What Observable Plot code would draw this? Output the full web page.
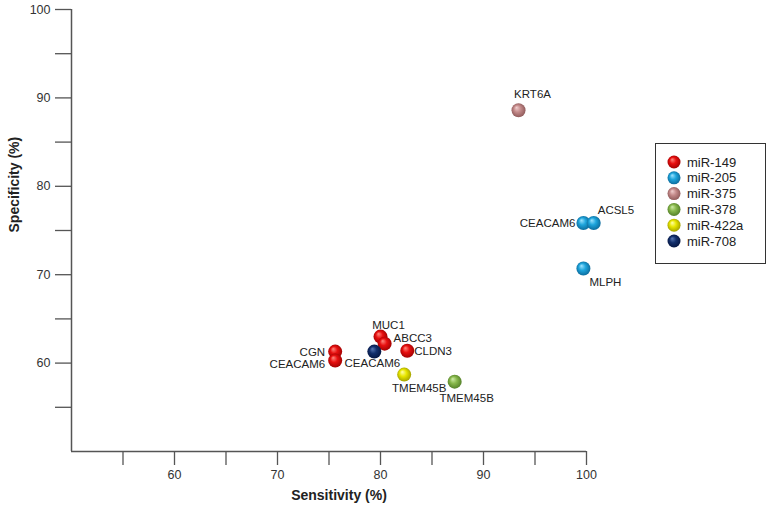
<!DOCTYPE html>
<html>
<head>
<meta charset="utf-8">
<script src="https://cdn.jsdelivr.net/npm/d3@7"></script>
<script src="https://cdn.jsdelivr.net/npm/@observablehq/plot@0.6"></script>
<style>
  html, body { margin: 0; padding: 0; background: #fff; }
  #chart { width: 771px; height: 512px; }
</style>
</head>
<body>
<div id="chart"></div>
<script>
// ---- data ----
const series = ["miR-149", "miR-205", "miR-375", "miR-378", "miR-422a", "miR-708"];
const genes = ["MUC1", "ABCC3", "CLDN3", "CGN", "CEACAM6", "CEACAM6", "MLPH", "CEACAM6", "ACSL5", "KRT6A", "TMEM45B", "TMEM45B"];
const mirna = ["miR-149", "miR-149", "miR-149", "miR-149", "miR-149", "miR-708", "miR-205", "miR-205", "miR-205", "miR-375", "miR-422a", "miR-378"];
const sensitivity = [80.0, 80.4, 82.6, 75.6, 75.6, 79.4, 99.7, 99.7, 100.7, 93.4, 82.3, 87.2];
const specificity = [63.0, 62.2, 61.4, 61.3, 60.3, 61.3, 70.7, 75.85, 75.85, 88.6, 58.7, 57.9];
const xTicks = [55, 60, 65, 70, 75, 80, 85, 90, 95, 100];
const yTicks = [55, 60, 65, 70, 75, 80, 85, 90, 95, 100];
const xTitle = "Sensitivity (%)";
const yTitle = "Specificity (%)";

// ---- styles (not data) ----
const palette = {
  "miR-149":  ["#ff8a80", "#e81010", "#9a0000"],
  "miR-205":  ["#a0e4ff", "#1ea5dc", "#0a6595"],
  "miR-375":  ["#f2d0d0", "#c48a8a", "#8a5656"],
  "miR-378":  ["#d0ecaa", "#88b84c", "#4e7a25"],
  "miR-422a": ["#ffffb0", "#e8e600", "#9c9a00"],
  "miR-708":  ["#5a78b4", "#13306c", "#04133d"]
};
// label placement per point index: [textAnchor, dx, dy]
const placement = [
  ["middle", 8, -11],
  ["start", 9, -5],
  ["start", 7, 1],
  ["end", -10, 1],
  ["end", -10, 4],
  ["middle", -2, 12],
  ["start", 6, 14],
  ["end", -8, 0],
  ["start", 4, -13],
  ["middle", 14, -16],
  ["middle", 15, 14],
  ["middle", 12, 17]
];

const points = genes.map((g, i) => ({gene: g, mirna: mirna[i], sens: sensitivity[i], spec: specificity[i]}));
const gradId = s => "grad-" + s.replace(/[^a-z0-9]/gi, "");

const axisColor = "#555";
const labelMarks = points.map((p, i) => Plot.text([p], {
  x: "sens", y: "spec", text: "gene",
  textAnchor: placement[i][0], dx: placement[i][1], dy: placement[i][2],
  fontSize: 11.5, fill: "#222"
}));

const svg = Plot.plot({
  width: 771,
  height: 512,
  marginLeft: 71,
  marginRight: 185,
  marginTop: 9,
  marginBottom: 61,
  style: {fontFamily: "'Liberation Sans', Arial, sans-serif", fontSize: "12px", color: "#222", background: "#fff"},
  x: {domain: [50, 100]},
  y: {domain: [50, 100]},
  color: {domain: series, range: series.map(s => `url(#${gradId(s)})`)},
  marks: [
    Plot.axisX({ticks: xTicks, tickSize: 14, tickPadding: 5, tickFormat: d => d % 10 === 0 ? String(d) : "", label: null, stroke: axisColor, strokeWidth: 1.3, fill: "#333", fontSize: 12.5}),
    Plot.axisY({ticks: yTicks, tickSize: 16, tickPadding: 5, tickFormat: d => d % 10 === 0 ? String(d) : "", label: null, stroke: axisColor, strokeWidth: 1.3, fill: "#333", fontSize: 12.5}),
    Plot.ruleX([50], {stroke: axisColor, strokeWidth: 1.5}),
    Plot.ruleY([50], {stroke: axisColor, strokeWidth: 1.5}),
    Plot.text([xTitle], {frameAnchor: "bottom", dx: 10, dy: 48, fontWeight: "bold", fontSize: 14, fill: "#222"}),
    Plot.text([yTitle], {frameAnchor: "left", dx: -57, dy: 2, rotate: -90, fontWeight: "bold", fontSize: 14, fill: "#222"}),
    Plot.dot(points, {x: "sens", y: "spec", fill: "mirna", r: 7, stroke: "none"}),
    ...labelMarks
  ]
});

// gradients for spherical look
const s = d3.select(svg);
const defs = s.insert("defs", ":first-child");
series.forEach(name => {
  const [hi, base, dark] = palette[name];
  const g = defs.append("radialGradient").attr("id", gradId(name))
    .attr("cx", "50%").attr("cy", "50%").attr("r", "55%").attr("fx", "35%").attr("fy", "30%");
  g.append("stop").attr("offset", "0%").attr("stop-color", hi);
  g.append("stop").attr("offset", "45%").attr("stop-color", base);
  g.append("stop").attr("offset", "100%").attr("stop-color", dark);
});

// legend box
const lg = s.append("g").attr("font-family", "'Liberation Sans', Arial, sans-serif").attr("font-size", 13).attr("text-anchor", "start");
lg.append("rect").attr("x", 655.5).attr("y", 143.5).attr("width", 110).attr("height", 120)
  .attr("fill", "#fff").attr("stroke", "#333").attr("stroke-width", 1);
series.forEach((name, i) => {
  const cy = 162 + i * 15.8;
  lg.append("circle").attr("cx", 674).attr("cy", cy).attr("r", 6.5).attr("fill", `url(#${gradId(name)})`);
  lg.append("text").attr("x", 687).attr("y", cy).attr("dy", "0.35em").attr("fill", "#222").text(name);
});

document.getElementById("chart").appendChild(svg);
</script>
</body>
</html>
